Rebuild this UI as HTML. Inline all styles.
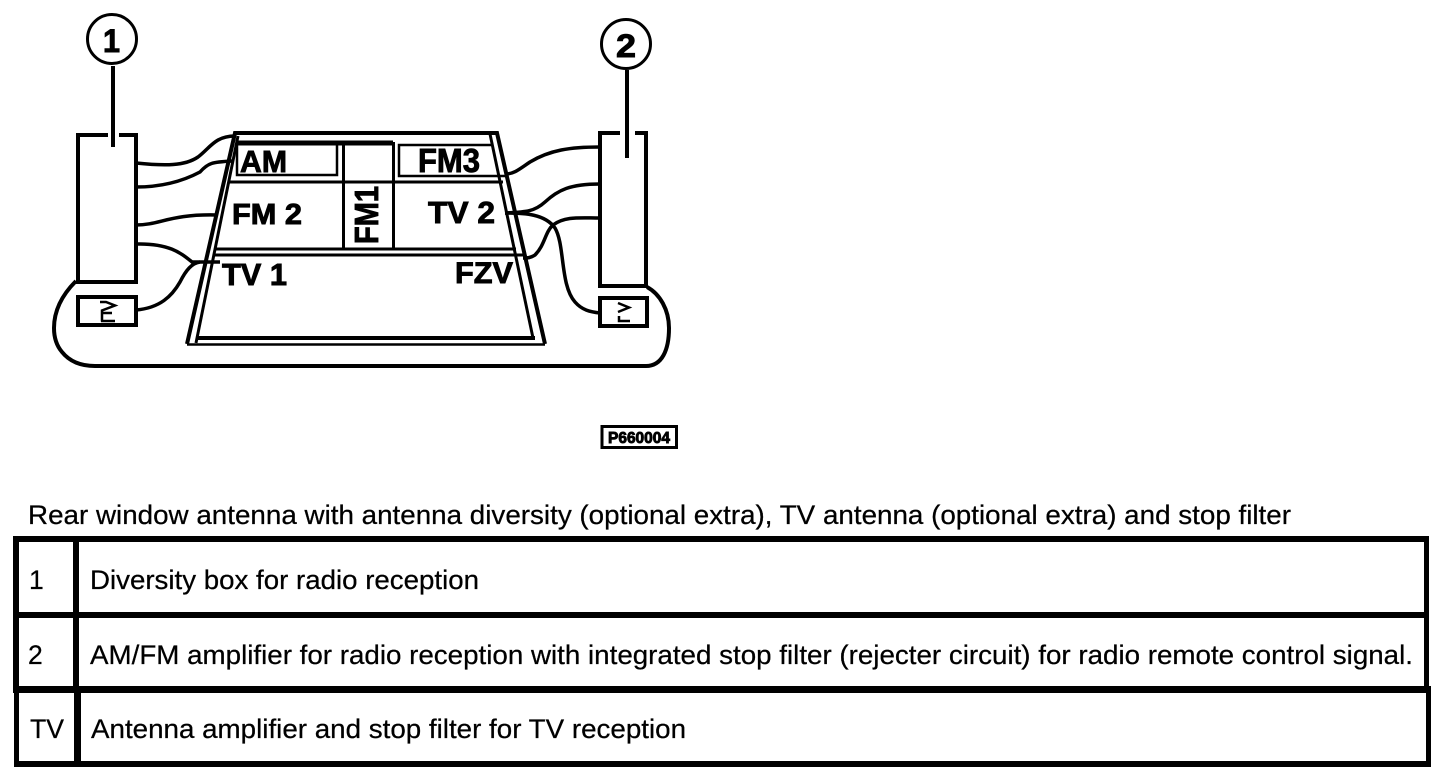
<!DOCTYPE html>
<html><head><meta charset="utf-8"><style>
html,body{margin:0;padding:0;background:#fff;width:1456px;height:778px;overflow:hidden}
svg{display:block}
text{font-family:"Liberation Sans",Arial,sans-serif;fill:#000}
.b{font-weight:bold;stroke:#000;stroke-width:.9}
.t{stroke:#000;stroke-width:.25}
</style></head><body>
<svg width="1456" height="778" viewBox="0 0 1456 778" xmlns="http://www.w3.org/2000/svg">
<g fill="none" stroke="#000" stroke-linecap="butt">
<!-- callouts -->
<circle cx="112" cy="39" r="24.500" stroke-width="3"/>
<circle cx="626" cy="44" r="24.500" stroke-width="3"/>
<path d="M113 66V147" stroke-width="4"/>
<path d="M627 70V158" stroke-width="4"/>
<!-- left box -->
<path d="M108 135H78V282H136V135H119" stroke-width="4"/>
<rect x="78" y="297" width="58" height="28" stroke-width="4"/>
<path d="M100 302h6l9 3.500-13 5v11M101 321h14M103 313h9" stroke-width="2.500"/>
<!-- right box -->
<path d="M620 133H600V286H646V133H635" stroke-width="4"/>
<rect x="600" y="298" width="47" height="28" stroke-width="4"/>
<path d="M618 303l11 4.500-11 4.500M619 316v5h11" stroke-width="2.500"/>
<!-- base loop -->
<path d="M76 281C62 295 54 311 54 328C54 336 56 345 62 352C70 362 82 366 95 366H646C662 366 669 350 669 328C669 310 660 294 647 287" stroke-width="4"/>
<!-- trapezoid -->
<path d="M187 344L235 133H497L545 344" stroke-width="4"/>
<path d="M196 343L238 136" stroke-width="3"/>
<path d="M490 134L533 338" stroke-width="3"/>
<path d="M187 344.500H545" stroke-width="2.500"/>
<path d="M196 338H535" stroke-width="4"/>
<path d="M237 143H393" stroke-width="5"/>
<path d="M229 182H503M216 249H516M214 255H524" stroke-width="3"/>
<path d="M343.500 142V249M393.500 142V249" stroke-width="3"/>
<path d="M237 144V175H337V144" stroke-width="2.500"/>
<path d="M505 176H399V145H492" stroke-width="2.500"/>
<!-- left wires -->
<g stroke-width="3.500">
<path d="M136 163C165 166 185 166 198 157C210 148 215 136 235 136"/>
<path d="M136 187C165 187 185 180 200 172C208 163 212 162 232 161"/>
<path d="M136 225C160 225 170 214 216 215"/>
<path d="M136 244C170 243 182 254 192 262H220"/>
<path d="M136 310C160 308 172 296 180 282C186 270 192 263 200 262"/>
</g>
<!-- right wires -->
<g stroke-width="3.500">
<path d="M600 147C570 147 550 150 530 162C518 170 515 173 507 174"/>
<path d="M600 184C570 184 558 190 545 202C534 212 525 212 505 213"/>
<path d="M600 218C580 218 565 216 553 225C545 232 545 245 535 255C530 258 528 258 523 258"/>
<path d="M505 213C525 213 545 214 555 228C565 245 560 285 575 302C582 310 590 312 600 313"/>
</g>
<!-- part number -->
<rect x="602" y="426.500" width="74.500" height="21" stroke-width="3"/>
</g>
<!-- diagram labels -->
<text class="b" x="240" y="172" font-size="31" textLength="47" lengthAdjust="spacingAndGlyphs">AM</text>
<text class="b" x="418" y="172" font-size="33" textLength="62" lengthAdjust="spacingAndGlyphs">FM3</text>
<text class="b" x="232" y="224" font-size="29" textLength="70" lengthAdjust="spacingAndGlyphs">FM 2</text>
<text class="b" x="428" y="223" font-size="31" textLength="67" lengthAdjust="spacingAndGlyphs">TV 2</text>
<text class="b" x="222" y="285" font-size="31" textLength="65" lengthAdjust="spacingAndGlyphs">TV 1</text>
<text class="b" x="455" y="283" font-size="30" textLength="58" lengthAdjust="spacingAndGlyphs">FZV</text>
<text class="b" transform="translate(378 244) rotate(-90)" font-size="33" textLength="58" lengthAdjust="spacingAndGlyphs">FM1</text>
<text x="103" y="52" font-size="32" class="b" textLength="17" lengthAdjust="spacingAndGlyphs">1</text>
<text x="616" y="57" font-size="32" class="b" textLength="20" lengthAdjust="spacingAndGlyphs">2</text>
<text class="b" x="608" y="443" font-size="16" textLength="62" lengthAdjust="spacingAndGlyphs">P660004</text>
<!-- caption -->
<text class="t" x="28" y="524" font-size="26.500" textLength="1263" lengthAdjust="spacingAndGlyphs">Rear window antenna with antenna diversity (optional extra), TV antenna (optional extra) and stop filter</text>
<!-- table -->
<g fill="#000">
<rect x="13" y="536" width="1416" height="6"/>
<rect x="13" y="612" width="1416" height="6"/>
<rect x="13" y="686" width="1416" height="7"/>
<rect x="13" y="536" width="6" height="157"/>
<rect x="73" y="536" width="6" height="157"/>
<rect x="1424" y="536" width="5" height="157"/>
<rect x="14" y="686" width="5" height="81"/>
<rect x="74" y="686" width="7" height="81"/>
<rect x="1426" y="686" width="5" height="81"/>
<rect x="14" y="761" width="1417" height="6"/>
</g>
<text class="t" x="29" y="589" font-size="26.500">1</text>
<text class="t" x="90" y="589" font-size="26.500" textLength="389" lengthAdjust="spacingAndGlyphs">Diversity box for radio reception</text>
<text class="t" x="28" y="664" font-size="26.500">2</text>
<text class="t" x="90" y="664" font-size="26.500" textLength="1323" lengthAdjust="spacingAndGlyphs">AM/FM amplifier for radio reception with integrated stop filter (rejecter circuit) for radio remote control signal.</text>
<text class="t" x="30" y="738" font-size="26.500" textLength="34" lengthAdjust="spacingAndGlyphs">TV</text>
<text class="t" x="91" y="738" font-size="26.500" textLength="595" lengthAdjust="spacingAndGlyphs">Antenna amplifier and stop filter for TV reception</text>
</svg>
</body></html>
